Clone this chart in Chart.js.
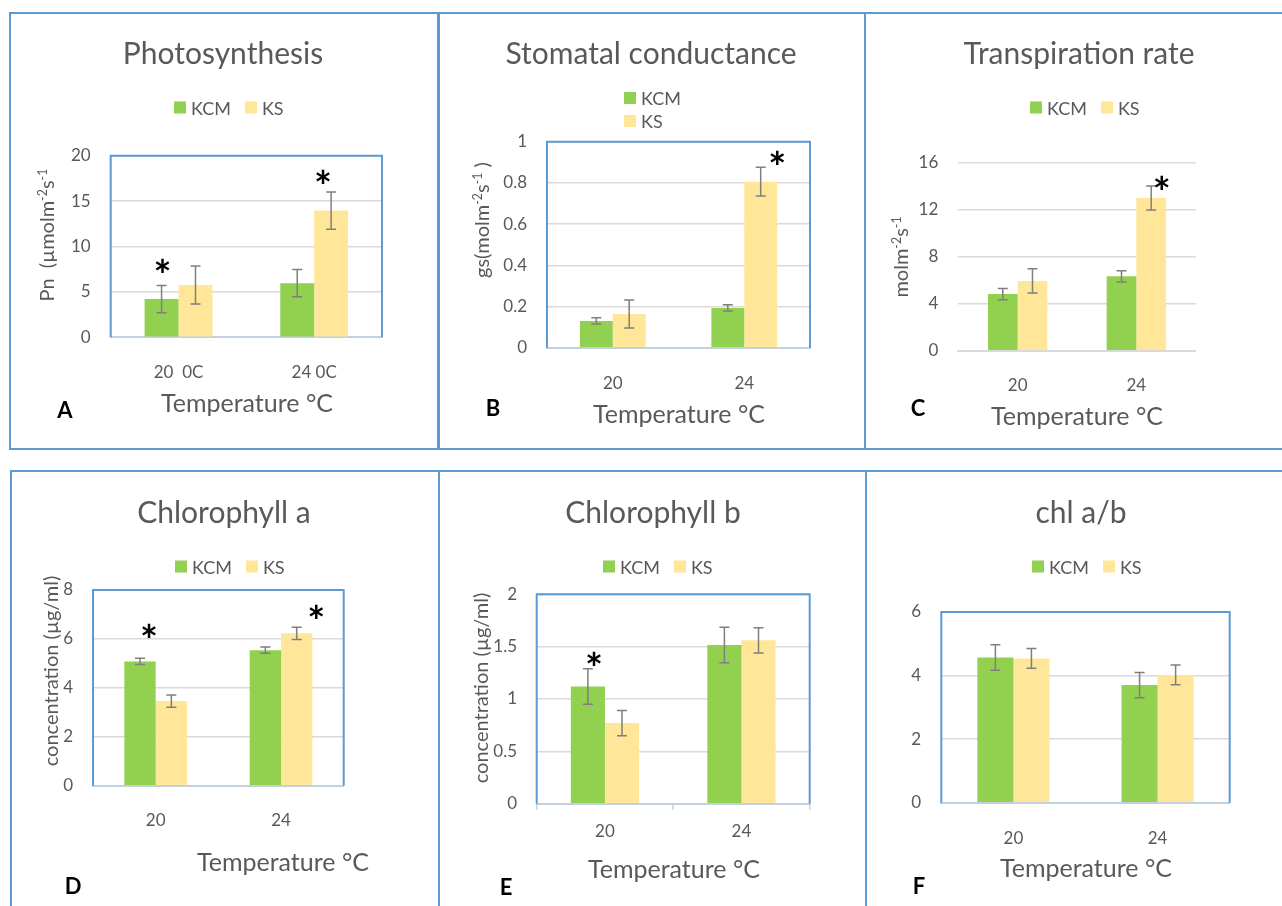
<!DOCTYPE html>
<html lang="en">
<head>
<meta charset="UTF-8" />
<title>KCM vs KS at 20 and 24 °C</title>
<script src="https://cdn.jsdelivr.net/npm/chart.js"></script>
<style>
  body { margin: 0; width: 1282px; height: 906px; overflow: hidden; position: relative; background: #fff; font-family: Lato, sans-serif; color: #595959; }
  .frame { position: absolute; border: 2px solid #5b9bd5; box-sizing: border-box; }
  .box { position: absolute; }
  .txt { position: absolute; white-space: nowrap; transform: translate(-50%, -50%); line-height: 1; }
  .title { font-size: 30px; }
  .xt { font-size: 25px; }
  .yt { font-size: 20px; transform: translate(-50%, -50%) rotate(-90deg); }
  .yt sup { font-size: 0.62em; vertical-align: 0.6em; line-height: 0; }
  .tag { font-size: 22px; font-weight: bold; color: #000; }
  .legend { position: absolute; display: flex; font-size: 18px; transform: translateY(-50%); }
  .legend .item { display: flex; align-items: center; height: 23px; margin-right: 14px; }
  .legend .sw { width: 12px; height: 12px; margin-right: 5px; }
  .legend.col { flex-direction: column; }
</style>
</head>
<body>

<div class="frame" style="left:9px;top:12px;width:430px;height:438px"></div>
<div class="frame" style="left:438px;top:12px;width:428px;height:438px"></div>
<div class="frame" style="left:864px;top:12px;width:440px;height:438px"></div>
<div class="frame" style="left:10px;top:470px;width:430px;height:450px"></div>
<div class="frame" style="left:438px;top:470px;width:429px;height:450px"></div>
<div class="frame" style="left:865px;top:470px;width:440px;height:450px"></div>

<script>
// ---- data ----
const series = ['KCM', 'KS'];
const tempLabelsA = ['20  0C', '24 0C'];
const tempLabels = ['20', '24'];

// A: photosynthesis (Pn)
const pnKCM = [4.2, 5.95];
const pnKS = [5.75, 13.95];
const pnErrKCM = [1.5, 1.5];
const pnErrKS = [2.1, 2.05];
const pnAxis = [0, 20, 5];          // min, max, step
const pnSig = [[0, 0], [1, 1]];     // [category, series] marked with *

// B: stomatal conductance (gs)
const gsKCM = [0.13, 0.193];
const gsKS = [0.164, 0.806];
const gsErrKCM = [0.015, 0.015];
const gsErrKS = [0.068, 0.07];
const gsAxis = [0, 1, 0.2];
const gsSig = [[1, 1]];

// C: transpiration rate
const trKCM = [4.81, 6.32];
const trKS = [5.92, 12.97];
const trErrKCM = [0.48, 0.48];
const trErrKS = [1.03, 1.02];
const trAxis = [0, 16, 4];
const trSig = [[1, 1]];

// D: chlorophyll a
const chlaKCM = [5.08, 5.54];
const chlaKS = [3.46, 6.23];
const chlaErrKCM = [0.13, 0.13];
const chlaErrKS = [0.25, 0.25];
const chlaAxis = [0, 8, 2];
const chlaSig = [[0, 0], [1, 1]];

// E: chlorophyll b
const chlbKCM = [1.12, 1.516];
const chlbKS = [0.77, 1.56];
const chlbErrKCM = [0.17, 0.17];
const chlbErrKS = [0.12, 0.12];
const chlbAxis = [0, 2, 0.5];
const chlbSig = [[0, 0]];

// F: chl a/b
const ratioKCM = [4.57, 3.70];
const ratioKS = [4.54, 4.02];
const ratioErrKCM = [0.4, 0.4];
const ratioErrKS = [0.31, 0.31];
const ratioAxis = [0, 6, 2];
const ratioSig = [];

const GREEN = '#92d050';
const YELLOW = '#ffe699';
const TEXT = '#595959';

// ---- plugins ----
const errorBars = {
  id: 'errorBars',
  afterDatasetsDraw(chart) {
    const { ctx } = chart;
    const y = chart.scales.y;
    ctx.save();
    ctx.strokeStyle = '#7f7f7f';
    ctx.lineWidth = 1.5;
    chart.data.datasets.forEach((ds, i) => {
      chart.getDatasetMeta(i).data.forEach((bar, j) => {
        const top = y.getPixelForValue(ds.data[j] + ds.errors[j]);
        const bot = y.getPixelForValue(ds.data[j] - ds.errors[j]);
        ctx.beginPath();
        ctx.moveTo(bar.x, top); ctx.lineTo(bar.x, bot);
        ctx.moveTo(bar.x - 5, top); ctx.lineTo(bar.x + 5, top);
        ctx.moveTo(bar.x - 5, bot); ctx.lineTo(bar.x + 5, bot);
        ctx.stroke();
      });
    });
    ctx.restore();
  }
};

const stars = {
  id: 'stars',
  afterDatasetsDraw(chart, args, opts) {
    const { ctx } = chart;
    const y = chart.scales.y;
    ctx.save();
    // size the asterisk so its glyph is about 14px wide
    ctx.font = 'bold 100px Lato';
    const probe = ctx.measureText('*');
    const size = 100 * 14 / (probe.actualBoundingBoxLeft + probe.actualBoundingBoxRight);
    ctx.font = `bold ${size}px Lato`;
    ctx.fillStyle = '#000';
    ctx.textAlign = 'center';
    ctx.textBaseline = 'alphabetic';
    const m = ctx.measureText('*');
    const shift = (m.actualBoundingBoxAscent - m.actualBoundingBoxDescent) / 2;
    (opts.marks || []).forEach(([cat, si], k) => {
      const ds = chart.data.datasets[si];
      const bar = chart.getDatasetMeta(si).data[cat];
      const [dx, dy] = opts.offsets[k];
      const top = y.getPixelForValue(ds.data[cat] + ds.errors[cat]);
      ctx.fillText('*', bar.x + dx, top + dy + shift);
    });
    ctx.restore();
  }
};

const plotFrame = {
  id: 'plotFrame',
  afterDraw(chart, args, opts) {
    if (!opts.show) return;
    const { ctx, chartArea: a } = chart;
    ctx.save();
    ctx.strokeStyle = '#5b9bd5';
    ctx.lineWidth = 2;
    ctx.beginPath();
    ctx.moveTo(a.left, a.bottom); ctx.lineTo(a.left, a.top);
    ctx.lineTo(a.right, a.top); ctx.lineTo(a.right, a.bottom);
    ctx.stroke();
    ctx.restore();
  }
};

const htmlLegend = {
  id: 'htmlLegend',
  afterUpdate(chart, args, opts) {
    const el = document.getElementById(opts.containerID);
    el.innerHTML = '';
    chart.data.datasets.forEach(ds => {
      const item = document.createElement('div');
      item.className = 'item';
      const sw = document.createElement('span');
      sw.className = 'sw';
      sw.style.background = ds.backgroundColor;
      item.appendChild(sw);
      item.appendChild(document.createTextNode(ds.label));
      el.appendChild(item);
    });
  }
};

function addText(cls, html, x, y) {
  const d = document.createElement('div');
  d.className = 'txt ' + cls;
  d.innerHTML = html;
  d.style.left = x + 'px';
  d.style.top = y + 'px';
  document.body.appendChild(d);
}

// ---- panels ----
function makePanel(p) {
  const box = document.createElement('div');
  box.className = 'box';
  Object.assign(box.style, { left: p.x + 'px', top: p.y + 'px', width: p.w + 'px', height: p.h + 'px' });
  const cv = document.createElement('canvas');
  box.appendChild(cv);
  document.body.appendChild(box);

  const leg = document.createElement('div');
  leg.id = 'leg' + p.tag;
  leg.className = 'legend' + (p.legendCol ? ' col' : '');
  leg.style.left = p.legend[0] + 'px';
  leg.style.top = p.legend[1] + 'px';
  document.body.appendChild(leg);

  addText('title', p.title, p.titlePos[0], p.titlePos[1]);
  addText('xt', 'Temperature °C', p.xtPos[0], p.xtPos[1]);
  if (p.yTitle) addText('yt', p.yTitle, p.ytPos[0], p.ytPos[1]);
  addText('tag', p.tag, p.tagPos[0], p.tagPos[1]);

  const [L, T, R, B] = p.plot;
  const xAxisH = 60;
  const tickFont = { family: 'Lato', size: 17 };

  new Chart(cv, {
    type: 'bar',
    data: {
      labels: p.labels,
      datasets: [
        { label: series[0], data: p.kcm, errors: p.errKcm, backgroundColor: GREEN, categoryPercentage: 0.5, barPercentage: 1 },
        { label: series[1], data: p.ks, errors: p.errKs, backgroundColor: YELLOW, categoryPercentage: 0.5, barPercentage: 1 }
      ]
    },
    options: {
      responsive: true,
      maintainAspectRatio: false,
      animation: false,
      devicePixelRatio: 1,
      layout: { padding: { top: T - p.y, left: 0, right: p.x + p.w - R, bottom: p.y + p.h - B - xAxisH } },
      plugins: {
        legend: { display: false },
        tooltip: { enabled: false },
        htmlLegend: { containerID: leg.id },
        plotFrame: { show: p.frame },
        stars: { marks: p.sig, offsets: p.starOff }
      },
      scales: {
        x: {
          grid: p.xTicks
            ? { display: true, drawOnChartArea: false, drawTicks: true, tickLength: 6, color: '#d0d0d0', lineWidth: 1.5 }
            : { display: false },
          border: { display: true, color: p.frame ? '#c3d0e2' : '#d9d9d9', width: 2 },
          ticks: { color: TEXT, font: tickFont, padding: p.xPad, maxRotation: 0 },
          afterFit: s => { s.height = xAxisH; }
        },
        y: {
          min: p.axis[0],
          max: p.axis[1],
          ticks: { stepSize: p.axis[2], color: TEXT, font: tickFont, padding: p.yPad, callback: v => String(+v.toFixed(2)) },
          grid: { color: '#d9d9d9', lineWidth: 1.5, drawTicks: false },
          border: { display: false },
          afterFit: s => { s.width = L - p.x; }
        }
      }
    },
    plugins: [errorBars, stars, plotFrame, htmlLegend]
  });
}

makePanel({
  tag: 'A', x: 10, y: 12, w: 428, h: 437, plot: [110.7, 155.7, 382, 337.2], frame: true,
  labels: tempLabelsA, kcm: pnKCM, ks: pnKS, errKcm: pnErrKCM, errKs: pnErrKS, axis: pnAxis,
  sig: pnSig, starOff: [[1, -20], [-8, -16]],
  title: 'Photosynthesis', titlePos: [223, 52], legend: [174, 107],
  yTitle: 'Pn&nbsp;&nbsp;(µmolm<sup>-2</sup>s<sup>-1</sup>', ytPos: [46, 235],
  xtPos: [247, 402], tagPos: [65, 410], xPad: 17.6, yPad: 20
});

makePanel({
  tag: 'B', x: 438, y: 12, w: 428, h: 437, plot: [547, 141.7, 810, 347.7], frame: true,
  labels: tempLabels, kcm: gsKCM, ks: gsKS, errKcm: gsErrKCM, errKs: gsErrKS, axis: gsAxis,
  sig: gsSig, starOff: [[16.5, -10]],
  title: 'Stomatal conductance', titlePos: [651, 52], legend: [624, 109.5], legendCol: true,
  yTitle: 'gs(molm<sup>-2</sup>s<sup>-1</sup> )', ytPos: [481, 220],
  xtPos: [679, 413], tagPos: [493, 408], xPad: 18.1, yPad: 20
});

makePanel({
  tag: 'C', x: 864, y: 12, w: 430, h: 437, plot: [958.3, 162.3, 1195.7, 350.7], frame: false,
  labels: tempLabels, kcm: trKCM, ks: trKS, errKcm: trErrKCM, errKs: trErrKS, axis: trAxis,
  sig: trSig, starOff: [[10.5, -3]],
  title: 'Transpiration rate', titlePos: [1079, 52], legend: [1030, 107],
  yTitle: 'molm<sup>-2</sup>s<sup>-1</sup>', ytPos: [900, 257],
  xtPos: [1077, 415], tagPos: [918, 408], xPad: 17.1, yPad: 20
});

makePanel({
  tag: 'D', x: 11, y: 471, w: 428, h: 435, plot: [93, 590, 343.7, 785.7], frame: true,
  labels: tempLabels, kcm: chlaKCM, ks: chlaKS, errKcm: chlaErrKCM, errKs: chlaErrKS, axis: chlaAxis,
  sig: chlaSig, starOff: [[9, -28], [19.5, -16]],
  title: 'Chlorophyll a', titlePos: [224, 511], legend: [175, 566],
  yTitle: 'concentration (µg/ml)', ytPos: [50, 671],
  xtPos: [283, 861], tagPos: [73, 886], xPad: 17.1, yPad: 20
});

makePanel({
  tag: 'E', x: 439, y: 471, w: 428, h: 435, plot: [536.7, 594.3, 809.7, 803.7], frame: true, xTicks: true,
  labels: tempLabels, kcm: chlbKCM, ks: chlbKS, errKcm: chlbErrKCM, errKs: chlbErrKS, axis: chlbAxis,
  sig: chlbSig, starOff: [[6, -10]],
  title: 'Chlorophyll b', titlePos: [653, 511], legend: [603, 566],
  yTitle: 'concentration (µg/ml)', ytPos: [480, 688],
  xtPos: [674, 868], tagPos: [506, 887], xPad: 12.1, yPad: 19.7
});

makePanel({
  tag: 'F', x: 866, y: 471, w: 430, h: 435, plot: [941.3, 612, 1229.7, 802.7], frame: true,
  labels: tempLabels, kcm: ratioKCM, ks: ratioKS, errKcm: ratioErrKCM, errKs: ratioErrKS, axis: ratioAxis,
  sig: ratioSig, starOff: [],
  title: 'chl a/b', titlePos: [1081, 511], legend: [1032, 566],
  yTitle: null,
  xtPos: [1086, 867], tagPos: [919, 886], xPad: 17.8, yPad: 20.3
});
</script>

</body>
</html>
